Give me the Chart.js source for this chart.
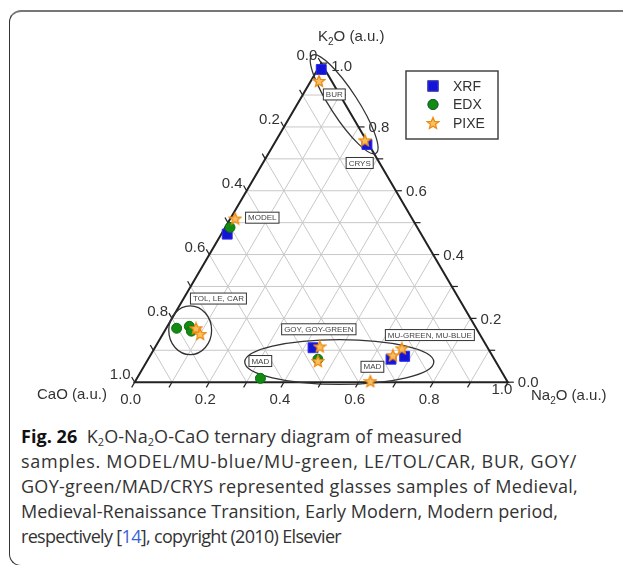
<!DOCTYPE html>
<html>
<head>
<meta charset="utf-8">
<script src="https://cdn.jsdelivr.net/npm/chart.js@4.4.1/dist/chart.umd.min.js"></script>
<style>
  html, body { margin: 0; padding: 0; background: #fff; }
  body { width: 623px; height: 565px; position: relative; overflow: hidden; }
  #frame {
    position: absolute; left: 9px; top: 10px; width: 720px; height: 553px;
    border-left: 1.5px solid #333; border-top: 2px solid #777; border-bottom: 1.5px solid #333;
    border-radius: 12px 0 0 12px;
  }
  #chart { position: absolute; left: 0; top: 0; }
  #caption {
    position: absolute; left: 21px; top: 424px; width: 600px;
    font-family: "Open Sans", sans-serif; font-size: 18px; line-height: 25px; color: #333;
    white-space: nowrap;
  }
  #caption .ln { display: inline-block; }
  #caption b { color: #111; font-weight: 700; }
  #caption .ref { color: #3b63d6; }
  #caption sub { font-size: 11px; vertical-align: -3px; line-height: 0; }
</style>
</head>
<body>
<div id="frame"></div>
<canvas id="chart" width="623" height="420"></canvas>
<div id="caption">
  <span class="ln" data-w="441"><b>Fig. 26</b>&nbsp; K<sub>2</sub>O-Na<sub>2</sub>O-CaO ternary diagram of measured</span><br>
  <span class="ln" data-w="556">samples. MODEL/MU-blue/MU-green, LE/TOL/CAR, BUR, GOY/</span><br>
  <span class="ln" data-w="557">GOY-green/MAD/CRYS represented glasses samples of Medieval,</span><br>
  <span class="ln" data-w="537">Medieval-Renaissance Transition, Early Modern, Modern period,</span><br>
  <span class="ln" data-w="320">respectively [<span class="ref">14</span>], copyright (2010) Elsevier</span>
</div>
<script>
// ternary compositions (K2O, Na2O, CaO)
const xrfK2O  = [0.98, 0.745, 0.464, 0.108, 0.072, 0.081];
const xrfNa2O = [0.01, 0.250, 0.016, 0.424, 0.651, 0.683];
const xrfCaO  = [0.01, 0.005, 0.520, 0.468, 0.277, 0.236];

const edxK2O  = [0.485, 0.169, 0.175, 0.160, 0.012, 0.072];
const edxNa2O = [0.013, 0.028, 0.059, 0.072, 0.331, 0.455];
const edxCaO  = [0.502, 0.803, 0.766, 0.768, 0.657, 0.473];

const pixeK2O  = [0.944, 0.758, 0.513, 0.169, 0.151, 0.112, 0.066, 0.003, 0.084, 0.106];
const pixeNa2O = [0.022, 0.238, 0.013, 0.080, 0.100, 0.440, 0.458, 0.630, 0.650, 0.663];
const pixeCaO  = [0.034, 0.004, 0.474, 0.751, 0.749, 0.448, 0.476, 0.367, 0.266, 0.231];

const tickLabels = ['0.0', '0.2', '0.4', '0.6', '0.8', '1.0'];
const seriesNames = ['XRF', 'EDX', 'PIXE'];

// group labels and circled groups (plot units: bottom edge = 0..1)
const groupLabels = [
  { text: 'BUR', u: 0.535, v: 0.781 },
  { text: 'CRYS', u: 0.603, v: 0.595 },
  { text: 'MODEL', u: 0.342, v: 0.4465 },
  { text: 'TOL, LE, CAR', u: 0.2245, v: 0.227 },
  { text: 'GOY, GOY-GREEN', u: 0.4935, v: 0.1436 },
  { text: 'MAD', u: 0.3368, v: 0.0574 },
  { text: 'MAD', u: 0.6371, v: 0.0418 },
  { text: 'MU-GREEN, MU-BLUE', u: 0.7911, v: 0.1279 }
];
const groupRings = [
  { u: 0.5614, v: 0.7546, rx: 0.1567, ry: 0.0366, rot: 57 },
  { u: 0.1488, v: 0.1410, rx: 0.0574, ry: 0.0653, rot: 0 },
  { u: 0.5483, v: 0.0548, rx: 0.2533, ry: 0.0601, rot: 0 }
];

// stretch each caption line to the width it has in the figure
document.querySelectorAll('#caption .ln').forEach(el => {
  const n = el.textContent.length;
  const diff = +el.dataset.w - el.getBoundingClientRect().width;
  el.style.letterSpacing = (diff / n).toFixed(3) + 'px';
});

const H = Math.sqrt(3) / 2;
function toXY(k, na, ca) {
  const s = k + na + ca;
  k /= s; na /= s;
  return { x: na + k / 2, y: k * H };
}
function points(K, N, C) {
  return K.map((k, i) => toXY(k, N[i], C[i]));
}

// five-point star marker
function makeStar(size) {
  const c = document.createElement('canvas');
  c.width = size; c.height = size;
  const g = c.getContext('2d');
  const cx = size / 2, cy = size / 2 + 0.5, R = size / 2 - 1, r = R * 0.45;
  g.beginPath();
  for (let i = 0; i < 10; i++) {
    const a = -Math.PI / 2 + i * Math.PI / 5;
    const rr = i % 2 ? r : R;
    g.lineTo(cx + rr * Math.cos(a), cy + rr * Math.sin(a));
  }
  g.closePath();
  g.fillStyle = '#f7c062';
  g.fill();
  g.strokeStyle = '#ee8a12';
  g.lineWidth = 1.3;
  g.stroke();
  return c;
}
const star = makeStar(14);

const ternaryDecor = {
  id: 'ternaryDecor',
  beforeDatasetsDraw(chart) {
    const ctx = chart.ctx;
    const xs = chart.scales.x, ys = chart.scales.y;
    const P = (u, v) => [xs.getPixelForValue(u), ys.getPixelForValue(v)];
    const T = (k, na) => { const q = toXY(k, na, 1 - k - na); return P(q.x, q.y); };
    const unit = xs.getPixelForValue(1) - xs.getPixelForValue(0);
    ctx.save();

    // grid
    ctx.strokeStyle = '#c8c8c8';
    ctx.lineWidth = 1;
    for (let i = 1; i < 10; i++) {
      const f = i / 10;
      const lines = [
        [T(f, 0), T(f, 1 - f)],        // K2O const
        [T(0, f), T(1 - f, f)],        // Na2O const
        [T(1 - f, 0), T(0, 1 - f)]     // CaO const
      ];
      lines.forEach(([a, b]) => {
        ctx.beginPath(); ctx.moveTo(a[0], a[1]); ctx.lineTo(b[0], b[1]); ctx.stroke();
      });
    }

    // ticks
    ctx.strokeStyle = '#222';
    ctx.lineWidth = 1.2;
    const tl = 6;
    for (let i = 0; i <= 10; i++) {
      const f = i / 10;
      let a = T(0, f);             // bottom, down-left
      ctx.beginPath(); ctx.moveTo(a[0], a[1]); ctx.lineTo(a[0] - tl * 0.5, a[1] + tl * H); ctx.stroke();
      a = T(f, 1 - f);             // right, horizontal
      ctx.beginPath(); ctx.moveTo(a[0], a[1]); ctx.lineTo(a[0] + tl, a[1]); ctx.stroke();
      a = T(1 - f, 0);             // left, up-left
      ctx.beginPath(); ctx.moveTo(a[0], a[1]); ctx.lineTo(a[0] - tl * 0.5, a[1] - tl * H); ctx.stroke();
    }

    // triangle
    ctx.strokeStyle = '#222';
    ctx.lineWidth = 2;
    const A = T(0, 0), B = T(0, 1), C = T(1, 0);
    ctx.beginPath(); ctx.moveTo(A[0], A[1]); ctx.lineTo(B[0], B[1]); ctx.lineTo(C[0], C[1]); ctx.closePath(); ctx.stroke();

    // tick labels
    ctx.fillStyle = '#333';
    ctx.font = '15px "Liberation Sans", Arial, sans-serif';
    ctx.textBaseline = 'middle';
    tickLabels.forEach((t, i) => {
      const f = i / 5;
      let a = T(0, f);
      ctx.textAlign = 'center';
      if (i === 5) ctx.fillText(t, a[0] - 6, a[1] + 8);
      else ctx.fillText(t, a[0] - 4, a[1] + 18);
      a = T(f, 1 - f);
      ctx.textAlign = 'left';
      ctx.fillText(t, a[0] + 10, a[1] + (i === 5 ? 4 : 1));
      a = T(1 - f, 0);
      ctx.textAlign = 'right';
      ctx.fillText(t, a[0] - 4, a[1] - 7);
    });

    // axis titles
    const title = (parts, x, y) => {
      let cx = x;
      parts.forEach(([s, sub]) => {
        ctx.font = (sub ? '10px' : '15px') + ' "Liberation Sans", Arial, sans-serif';
        ctx.textAlign = 'left';
        ctx.fillText(s, cx, y + (sub ? 5 : 0));
        cx += ctx.measureText(s).width;
      });
    };
    title([['K'], ['2', 1], ['O (a.u.)']], 318, 37);
    title([['CaO (a.u.)']], 37, 395);
    title([['Na'], ['2', 1], ['O (a.u.)']], 531, 396);

    // rings
    ctx.strokeStyle = '#333';
    ctx.lineWidth = 1.3;
    groupRings.forEach(r => {
      const c = P(r.u, r.v);
      ctx.beginPath();
      ctx.ellipse(c[0], c[1], r.rx * unit, r.ry * unit, r.rot * Math.PI / 180, 0, Math.PI * 2);
      ctx.stroke();
    });

    // group labels
    ctx.font = '8px "Liberation Sans", Arial, sans-serif';
    ctx.textAlign = 'center';
    groupLabels.forEach(g => {
      const c = P(g.u, g.v);
      const w = ctx.measureText(g.text).width + 5;
      ctx.fillStyle = '#fff';
      ctx.fillRect(c[0] - w / 2, c[1] - 5.5, w, 11);
      ctx.strokeStyle = '#333';
      ctx.lineWidth = 1;
      ctx.strokeRect(c[0] - w / 2, c[1] - 5.5, w, 11);
      ctx.fillStyle = '#444';
      ctx.fillText(g.text, c[0], c[1] + 0.5);
    });
    ctx.restore();
  },
  afterDatasetsDraw(chart) {
    // legend box
    const ctx = chart.ctx;
    ctx.save();
    ctx.fillStyle = '#fff';
    ctx.fillRect(406, 71, 92, 68);
    ctx.strokeStyle = '#444';
    ctx.lineWidth = 1.5;
    ctx.strokeRect(406, 71, 92, 68);
    ctx.font = '14px "Liberation Sans", Arial, sans-serif';
    ctx.textBaseline = 'middle';
    ctx.textAlign = 'left';
    chart.data.datasets.forEach((ds, i) => {
      const y = 86 + i * 18.5;
      Chart.helpers.drawPoint(ctx, {
        pointStyle: ds.pointStyle, radius: ds.pointRadius, borderWidth: ds.borderWidth, rotation: 0
      }, 433, y);
      ctx.fillStyle = ds.backgroundColor;
      ctx.strokeStyle = ds.borderColor;
      ctx.lineWidth = ds.borderWidth;
      if (ds.pointStyle !== star) { ctx.fill(); ctx.stroke(); }
      ctx.fillStyle = '#333';
      ctx.fillText(seriesNames[i], 453, y + 1);
    });
    ctx.restore();
  }
};

// plot units: bottom-left vertex at pixel (130,389), 383 px per unit
const PX = 383;
new Chart(document.getElementById('chart'), {
  type: 'scatter',
  data: {
    datasets: [
      { label: seriesNames[0], data: points(xrfK2O, xrfNa2O, xrfCaO), pointStyle: 'rect', pointRadius: 7,
        backgroundColor: '#1414d6', borderColor: '#2b2bee', borderWidth: 1, clip: false, order: 3 },
      { label: seriesNames[1], data: points(edxK2O, edxNa2O, edxCaO), pointStyle: 'circle', pointRadius: 5,
        backgroundColor: '#138a13', borderColor: '#0c6e0c', borderWidth: 1, clip: false, order: 2 },
      { label: seriesNames[2], data: points(pixeK2O, pixeNa2O, pixeCaO), pointStyle: star, pointRadius: 7,
        backgroundColor: '#f7c062', borderColor: '#ee8a12', borderWidth: 1, clip: false, order: 1 }
    ]
  },
  options: {
    responsive: false,
    animation: false,
    events: [],
    layout: { padding: 0 },
    plugins: { legend: { display: false }, tooltip: { enabled: false } },
    scales: {
      x: { type: 'linear', display: false, min: -130 / PX, max: (623 - 130) / PX },
      y: { type: 'linear', display: false, min: -(420 - 389) / PX, max: 389 / PX }
    }
  },
  plugins: [ternaryDecor]
});
</script>
</body>
</html>
